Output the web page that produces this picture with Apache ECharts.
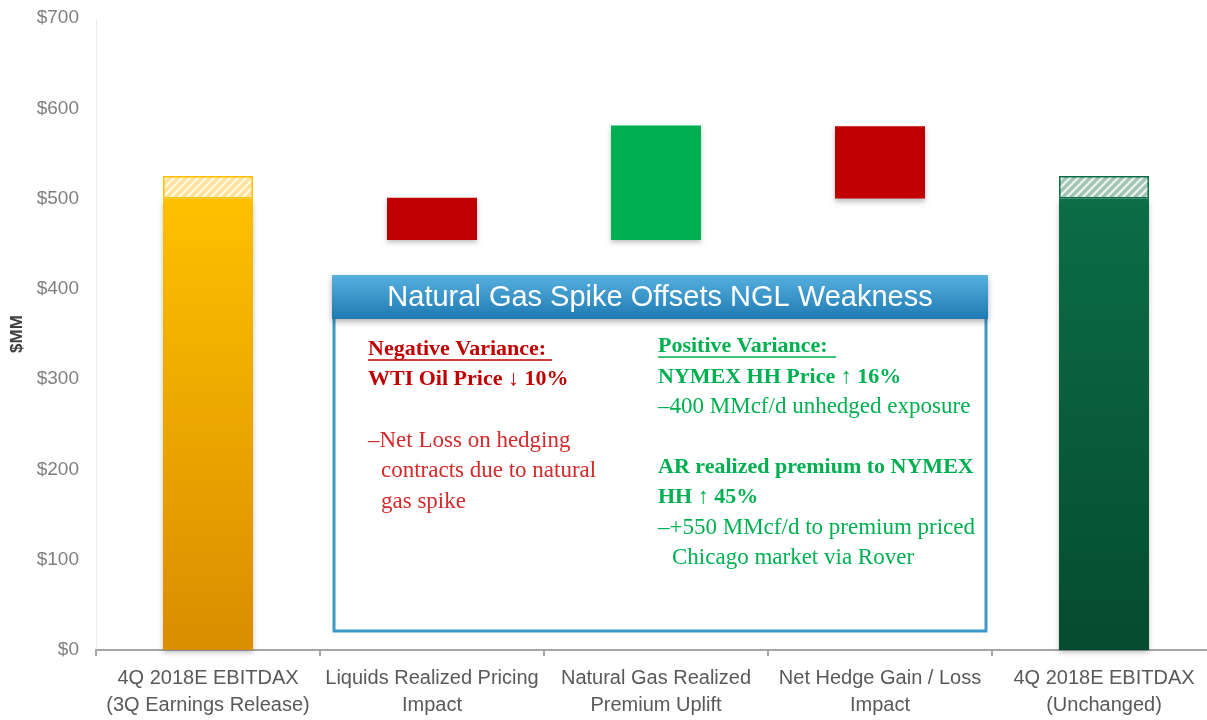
<!DOCTYPE html>
<html>
<head>
<meta charset="utf-8">
<script src="https://cdn.jsdelivr.net/npm/echarts@6/dist/echarts.min.js"></script>
<style>
  html, body { margin: 0; padding: 0; background: #fff; overflow: hidden; }
  /* the slide is cropped on the right: the chart is a bit wider than the window */
  #chart { width: 1216px; height: 720px; }
</style>
</head>
<body>
<div id="chart"></div>
<script>
// categories and waterfall pieces ($MM)
var categories = [
  '4Q 2018E EBITDAX\n(3Q Earnings Release)',
  'Liquids Realized Pricing\nImpact',
  'Natural Gas Realized\nPremium Uplift',
  'Net Hedge Gain / Loss\nImpact',
  '4Q 2018E EBITDAX\n(Unchanged)'
];
var baseValues  = [0, 454, 454, 500, 0];     // invisible offset
var stepValues  = [500, 47, 127, 80, 500];   // visible bar
var hatchValues = [25, '-', '-', '-', 25];   // hatched top part
var yTicks = [0, 100, 200, 300, 400, 500, 600, 700];

function hatch(bg, stripe) {
  var c = document.createElement('canvas');
  c.width = 8; c.height = 8;
  var g = c.getContext('2d');
  g.fillStyle = bg;
  g.fillRect(0, 0, 8, 8);
  g.strokeStyle = stripe;
  g.lineWidth = 2;
  g.beginPath();
  g.moveTo(-2, 10); g.lineTo(10, -2);
  g.moveTo(-6, 6); g.lineTo(6, -6);
  g.moveTo(2, 14); g.lineTo(14, 2);
  g.stroke();
  return { image: c, repeat: 'repeat' };
}

var grad = echarts.graphic.LinearGradient;
var stepColors = [
  new grad(0, 0, 0, 1, [{ offset: 0, color: '#FFC000' }, { offset: 1, color: '#D98D00' }]),
  '#C00000',
  '#00B050',
  '#C00000',
  new grad(0, 0, 0, 1, [{ offset: 0, color: '#0C6D47' }, { offset: 1, color: '#054B30' }])
];
var hatchColors = [hatch('#FFE39A', '#FFF8E6'), null, null, null, hatch('#A3C5B5', '#EEF5F1')];
var edgeColors = ['#FFC000', null, null, null, '#0C6D47'];

var chart = echarts.init(document.getElementById('chart'));

var red = '#C00000', redLight = '#D42A2A', green = '#00B050';
var serif = '"Liberation Serif", "DejaVu Serif", serif';
var sans = '"Liberation Sans", Arial, sans-serif';

function txt(s, x, y, color, bold) {
  return {
    type: 'text', z: 100,
    style: {
      text: s, x: x, y: y, fill: color,
      font: (bold ? 'bold 22px ' : '23px ') + serif,
      textVerticalAlign: 'middle'
    }
  };
}
function uline(x1, x2, y, color) {
  return { type: 'line', z: 100, shape: { x1: x1, y1: y, x2: x2, y2: y }, style: { stroke: color, lineWidth: 1.5 } };
}

var option = {
  animation: false,
  grid: { left: 96, top: 18, bottom: 70, right: 0 },
  xAxis: {
    type: 'category',
    data: categories,
    axisLine: { lineStyle: { color: '#a6a6a6', width: 2 } },
    axisTick: { show: true, interval: 0, length: 6, lineStyle: { color: '#a6a6a6', width: 2 } },
    axisLabel: {
      interval: 0,
      color: '#595959', fontSize: 20, lineHeight: 27, margin: 15,
      fontFamily: sans
    }
  },
  yAxis: {
    type: 'value',
    min: yTicks[0], max: yTicks[yTicks.length - 1], interval: 100,
    name: '$MM', nameLocation: 'middle', nameGap: 70,
    nameTextStyle: { color: '#404040', fontSize: 17, fontWeight: 'bold', fontFamily: sans },
    axisLine: { show: true, lineStyle: { color: '#e6e6e6', type: 'dotted' } },
    axisTick: { show: false },
    splitLine: { show: false },
    axisLabel: {
      color: '#7f7f7f', fontSize: 19, margin: 17,
      fontFamily: sans,
      formatter: '${value}'
    }
  },
  series: [
    {
      type: 'bar', stack: 'w', barWidth: 90,
      itemStyle: { color: 'transparent' },
      data: baseValues
    },
    {
      type: 'bar', stack: 'w', barWidth: 90,
      data: stepValues.map(function (v, i) {
        return {
          value: v,
          itemStyle: {
            color: stepColors[i],
            shadowBlur: 5, shadowOffsetY: 3, shadowColor: 'rgba(0,0,0,0.25)'
          }
        };
      })
    },
    {
      type: 'bar', stack: 'w', barWidth: 90,
      data: hatchValues.map(function (v, i) {
        return {
          value: v,
          itemStyle: {
            color: hatchColors[i] || 'transparent',
            borderColor: edgeColors[i] || 'transparent',
            borderWidth: 1.5
          }
        };
      })
    }
  ],
  graphic: [
    // text box
    {
      type: 'rect', z: 90,
      shape: { x: 334, y: 277, width: 652, height: 354 },
      style: { fill: '#fff', stroke: '#3C98C6', lineWidth: 3 }
    },
    {
      type: 'rect', z: 95,
      shape: { x: 332, y: 275, width: 656, height: 44 },
      style: {
        fill: new grad(0, 0, 0, 1, [{ offset: 0, color: '#56B0DE' }, { offset: 1, color: '#1F7AB3' }]),
        shadowBlur: 6, shadowOffsetY: 3, shadowColor: 'rgba(0,0,0,0.3)'
      }
    },
    {
      type: 'text', z: 100,
      style: {
        text: 'Natural Gas Spike Offsets NGL Weakness', x: 660, y: 298,
        fill: '#ffffff', font: '29px ' + sans,
        textAlign: 'center', textVerticalAlign: 'middle'
      }
    },
    txt('Negative Variance:', 368, 349, red, true),
    uline(368, 552, 360, red),
    txt('WTI Oil Price \u2193 10%', 368, 379, red, true),
    txt('\u2013Net Loss on hedging', 368, 441, redLight, false),
    txt('contracts due to natural', 381, 471, redLight, false),
    txt('gas spike', 381, 502, redLight, false),

    txt('Positive Variance:', 658, 346, green, true),
    uline(658, 836, 357, green),
    txt('NYMEX HH Price \u2191 16%', 658, 377, green, true),
    txt('\u2013400 MMcf/d unhedged exposure', 658, 407, green, false),
    txt('AR realized premium to NYMEX', 658, 467, green, true),
    txt('HH \u2191 45%', 658, 497, green, true),
    txt('\u2013+550 MMcf/d to premium priced', 658, 528, green, false),
    txt('Chicago market via Rover', 672, 558, green, false)
  ]
};

chart.setOption(option);
</script>
</body>
</html>
